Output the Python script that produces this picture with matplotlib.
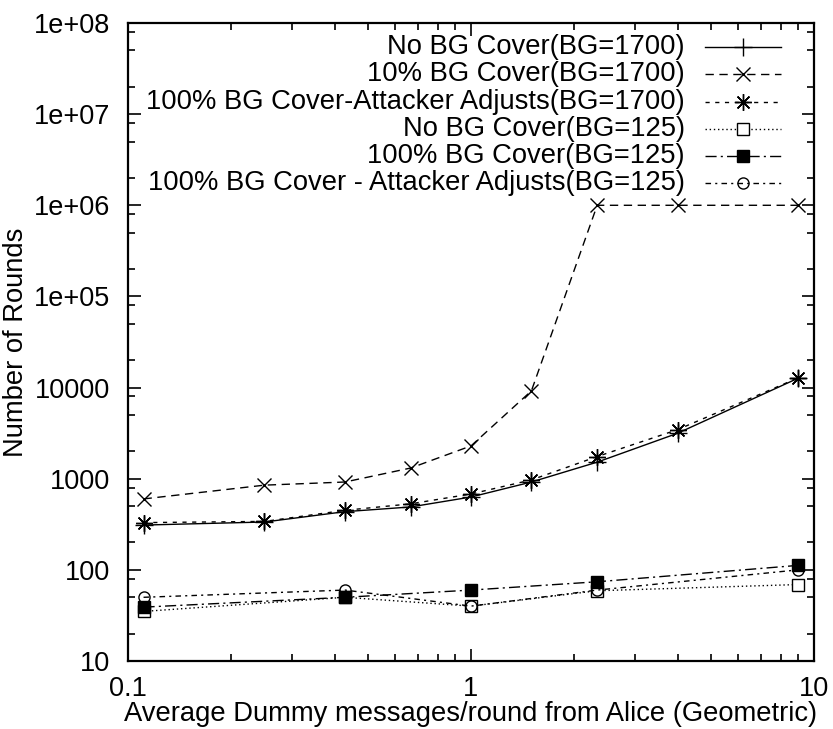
import matplotlib
matplotlib.use("Agg")
import matplotlib.pyplot as plt
from matplotlib.ticker import FixedLocator, FixedFormatter, NullFormatter

plt.rcParams["font.family"] = ["Liberation Sans", "DejaVu Sans"]

# mean dummy messages per round (geometric), BG=1700 runs
x_1700 = [0.111, 0.25, 0.429, 0.667, 1.0, 1.5, 2.333, 4.0, 9.0]
no_cover_1700 = [310, 335, 435, 490, 630, 920, 1520, 3150, 12700]
cover10_1700 = [600, 850, 920, 1310, 2290, 9200, 1e6, 1e6, 1e6]
adjust_1700 = [330, 340, 450, 530, 680, 970, 1750, 3450, 12800]

# BG=125 runs
x_125 = [0.111, 0.429, 1.0, 2.333, 9.0]
no_cover_125 = [35, 50, 40, 59, 69]
cover100_125 = [39, 50, 60, 74, 112]
adjust_125 = [50, 60, 40, 60, 100]

labels = [
    "No BG Cover(BG=1700)",
    "10% BG Cover(BG=1700)",
    "100% BG Cover-Attacker Adjusts(BG=1700)",
    "No BG Cover(BG=125)",
    "100% BG Cover(BG=125)",
    "100% BG Cover - Attacker Adjusts(BG=125)",
]

y_ticks = [10, 100, 1000, 10000, 1e5, 1e6, 1e7, 1e8]
y_ticklabels = ["10", "100", "1000", "10000", "1e+05", "1e+06", "1e+07", "1e+08"]
x_ticks = [0.1, 1, 10]
x_ticklabels = ["0.1", "1", "10"]

asterisk = (8, 2, 0)
styles = [
    dict(ls="-", marker="+", ms=13, mfc="none"),
    dict(ls=(0, (6, 4)), marker="x", ms=10, mfc="none"),
    dict(ls=(0, (3, 4)), marker=asterisk, ms=12, mfc="none"),
    dict(ls=(0, (1, 2)), marker="s", ms=8, mfc="white"),
    dict(ls=(0, (8, 3, 1.5, 3)), marker="s", ms=8, mfc="black"),
    dict(ls=(0, (4, 3, 1.5, 3)), marker="o", ms=8, mfc="none"),
]
series = [
    (x_1700, no_cover_1700),
    (x_1700, cover10_1700),
    (x_1700, adjust_1700),
    (x_125, no_cover_125),
    (x_125, cover100_125),
    (x_125, adjust_125),
]

fig = plt.figure(figsize=(8.33, 7.29), dpi=100)
ax = fig.add_axes([128 / 833, 1 - 661 / 729, 686 / 833, 638 / 729])

for (xs, ys), st in zip(series, styles):
    ax.plot(xs, ys, color="black", lw=1.0, mec="black", mew=1.0, **st)

ax.set_xscale("log")
ax.set_yscale("log")
ax.set_xlim(0.1, 10)
ax.set_ylim(10, 1e8)

ax.yaxis.set_major_locator(FixedLocator(y_ticks))
ax.yaxis.set_major_formatter(FixedFormatter(y_ticklabels))
ax.yaxis.set_minor_locator(FixedLocator(
    [m * 10 ** e for e in range(1, 8) for m in (2, 5, 8)]))
ax.yaxis.set_minor_formatter(NullFormatter())
ax.xaxis.set_major_locator(FixedLocator(x_ticks))
ax.xaxis.set_major_formatter(FixedFormatter(x_ticklabels))
ax.xaxis.set_minor_locator(FixedLocator(
    [m * 10 ** e for e in (-1, 0) for m in range(2, 10)]))
ax.xaxis.set_minor_formatter(NullFormatter())

ax.tick_params(which="both", direction="in", top=True, right=True,
               labelsize=19.5, width=1.2)
ax.tick_params(axis="y", which="major", length=9, pad=13)
ax.tick_params(axis="x", which="major", length=9, pad=11)
ax.tick_params(which="minor", length=5)
for sp in ax.spines.values():
    sp.set_linewidth(1.6)

ax.set_xlabel("Average Dummy messages/round from Alice (Geometric)",
              fontsize=19.7, labelpad=-1)
ax.set_ylabel("Number of Rounds", fontsize=19.7, labelpad=3)

# key in the top-right corner: right-aligned text, then line sample
row0, step = (661 - 47) / 638, 27.3 / 638
tx, lx0, lx1 = 557 / 686, 577 / 686, 653 / 686
for i, (lab, st) in enumerate(zip(labels, styles)):
    y = row0 - i * step
    ax.text(tx, y, lab, transform=ax.transAxes, ha="right", va="center",
            fontsize=19.7)
    ax.plot([lx0, lx1], [y, y], transform=ax.transAxes, color="black",
            lw=1.0, ls=st["ls"], clip_on=False)
    ax.plot([(lx0 + lx1) / 2], [y], transform=ax.transAxes, color="black",
            ls="none", marker=st["marker"], ms=st["ms"], mfc=st["mfc"],
            mec="black", mew=1.0, clip_on=False)

fig.savefig("out.png", dpi=100)
